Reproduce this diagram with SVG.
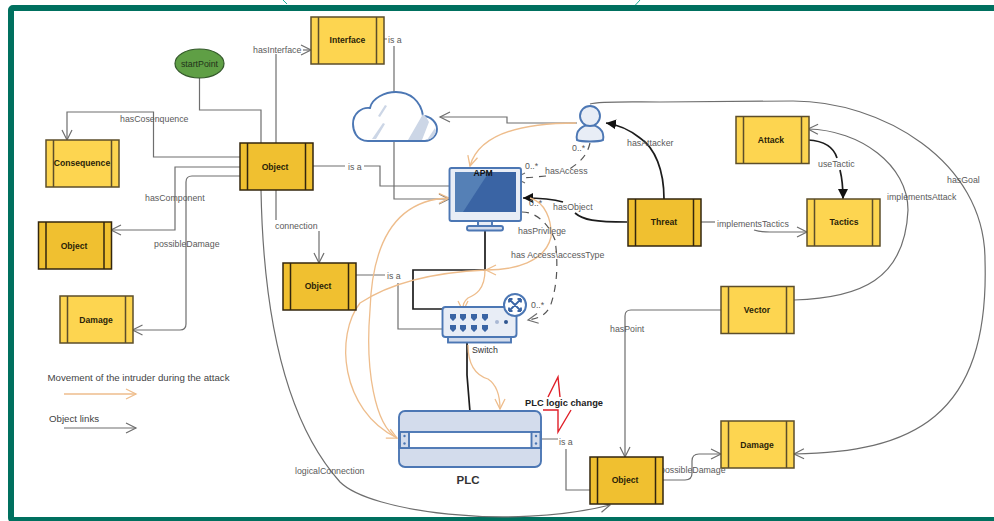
<svg xmlns="http://www.w3.org/2000/svg" width="994" height="521" viewBox="0 0 994 521">
<style>
text{font-family:"Liberation Sans",Arial,sans-serif;stroke:none}
.lb{font-size:8.8px;fill:#5a5a5a}
.nt{font-size:8.6px;font-weight:bold;fill:#2a1f08;text-anchor:middle}
.c{fill:none;stroke:#6e6e6e;stroke-width:1.2}
.cm{marker-end:url(#open)}
.k{fill:none;stroke:#1c1c1c;stroke-width:1.7}
.km{marker-end:url(#solid)}
.d{fill:none;stroke:#555;stroke-width:1.2;stroke-dasharray:7 6}
.o{fill:none;stroke:#eebd8c;stroke-width:1.3}
.om{marker-end:url(#openO)}
.light{fill:#fdd550;stroke:#5c4e2a}
.dark{fill:#f0c030;stroke:#33260e}
.pb{stroke-width:1.5}
.blue{fill:#e8edf6;stroke:#4c77b4;stroke-width:1.9}
.pale{fill:#d3dcec;stroke:#4c77b4;stroke-width:1.9}
</style>
<defs>
<marker id="open" markerUnits="userSpaceOnUse" markerWidth="14" markerHeight="14" refX="11" refY="7" orient="auto"><path d="M1,2 L11,7 L1,12" fill="none" stroke="#6e6e6e" stroke-width="1.2"/></marker>
<marker id="openO" markerUnits="userSpaceOnUse" markerWidth="14" markerHeight="14" refX="11" refY="7" orient="auto"><path d="M1,2 L11,7 L1,12" fill="none" stroke="#eebd8c" stroke-width="1.3"/></marker>
<marker id="solid" markerUnits="userSpaceOnUse" markerWidth="14" markerHeight="14" refX="10" refY="7" orient="auto"><path d="M0,2 L10,7 L0,12 Z" fill="#111"/></marker>
<g id="proc"><rect x="0" y="0" width="73" height="47" class="pb"/><path d="M7.500,0V47M65.500,0V47" fill="none" class="pb"/></g>
</defs>
<rect width="994" height="521" fill="#fff"/>
<path d="M283,0L287,4M640,0L630,11M433,521L435,518M617,521L615,518" stroke="#1fb39c" stroke-width="1" fill="none"/>
<rect x="11" y="8" width="1000" height="512" rx="2" fill="none" stroke="#00705f" stroke-width="6"/>

<g id="connectors">
<path class="c" d="M199.500,78V110H261V143"/>
<path class="c" d="M276,143V54"/>
<path class="c cm" d="M303,50H311"/>
<path class="c cm" d="M240,157H153.500V112H67V140"/>
<path class="c cm" d="M240,167H175V230H111"/>
<path class="c cm" d="M240,176H192Q186,176 186,182V324Q186,330 180,330H132.500"/>
<path class="c" d="M312,166H345M364,166H380V186H449"/>
<path class="c" d="M276,190V220"/>
<path class="c cm" d="M319,231V263"/>
<path class="c cm" d="M261,190C263,300 280,415 340,482C370,512 510,530 610,505"/>
<path class="c" d="M384,39H387M394,46V92"/>
<path class="c cm" d="M394,141V199H449"/>
<path class="c cm" d="M577,123H507V117H440"/>
<path class="c" d="M355,275H385M398,283V329H443"/>
<path class="c" d="M541,439H558M566,449V490H590"/>
<path class="c cm" d="M721,310H631Q625,310 625,316V457"/>
<path class="c" d="M700,222H715"/>
<path class="c cm" d="M754,230Q760,232 770,232H807"/>
<path class="c cm" d="M662,480H685Q692,480 692,473V461Q692,454 699,454H721"/>
<path class="c cm" d="M794,300C860,298 905,280 908,210C908,165 860,130 808,129"/>
<path class="c cm" d="M590,104C600,101 630,102 660,102L793,101C880,101 985,160 985,260C990,420 910,452 794,454"/>
<path class="k" d="M485,230V270H413V309H443"/>
<path class="k" d="M467,342V375L470,412"/>
<path class="k km" d="M563,202C553,199 540,198 523,198"/>
<path class="k" d="M575,213C583,220 595,222 627,222"/>
<path class="k km" d="M664,199C664,170 655,148 640,138C630,130 620,125 606,123"/>
<path class="k" d="M808,140C825,141 834,148 837,158"/>
<path class="k km" d="M840,170C842,178 843,188 843,199"/>
<path class="d" d="M590,143C586,160 575,165 565,172"/>
<path class="d cm" d="M546,176C535,177 528,178 515,178"/>
<path class="d cm" d="M522,212C535,212 548,222 555,240C558,260 558,285 550,307C545,315 540,318 528,320"/>
<path class="o om" d="M576,123C530,123 480,130 470,166"/>
<path class="o om" d="M397,438C375,425 365,370 370,310C372,250 390,200 449,198"/>
<path class="o om" d="M530,198C545,202 552,220 551,237C545,262 515,270 486,270"/>
<path class="o om" d="M486,270C440,272 395,280 360,303C335,335 340,410 397,438"/>
<path class="o om" d="M485,270C485,290 475,295 468,298C463,302 463,305 463,311"/>
<path class="o om" d="M468,345C468,365 475,375 488,379C497,385 500,395 500,409"/>
<path d="M548,397L558,377L560,397M543,410H558L558,432L571,410" fill="none" stroke="#e01f28" stroke-width="1.400"/>
<text class="lb" x="253" y="53">hasInterface</text>
<text class="lb" x="120" y="122">hasCosenquence</text>
<text class="lb" x="145" y="201">hasComponent</text>
<text class="lb" x="154" y="247">possibleDamage</text>
<text class="lb" x="348" y="170">is a</text>
<text class="lb" x="275" y="229">connection</text>
<text class="lb" x="295" y="474">logicalConnection</text>
<text class="lb" x="388" y="43">is a</text>
<text class="lb" x="387" y="279">is a</text>
<text class="lb" x="559" y="445">is a</text>
<text class="lb" x="545" y="174">hasAccess</text>
<text class="lb" x="553" y="210">hasObject</text>
<text class="lb" x="518" y="234">hasPrivilege</text>
<text class="lb" x="511" y="258">has Access\accessType</text>
<text class="lb" x="627" y="146">hasAttacker</text>
<text class="lb" x="818" y="167">useTactic</text>
<text class="lb" x="717" y="227">implementsTactics</text>
<text class="lb" x="887" y="200">implementsAttack</text>
<text class="lb" x="947" y="183">hasGoal</text>
<text class="lb" x="610" y="332">hasPoint</text>
<text class="lb" x="660" y="473">possibleDamage</text>
<text class="lb" x="572" y="151">0..*</text>
<text class="lb" x="525" y="169">0..*</text>
<text class="lb" x="529" y="206">0..*</text>
<text class="lb" x="531" y="308">0..*</text>
</g>

<g id="node-startPoint"><ellipse cx="199.500" cy="63.500" rx="24.500" ry="14.500" fill="#5f9f45" stroke="#33582a" stroke-width="1.200"/><text x="199.500" y="67" font-size="8.800" fill="#22331a" text-anchor="middle">startPoint</text></g>
<g id="node-interface" class="light"><use href="#proc" x="311" y="17"/><text class="nt" x="347.500" y="43">Interface</text></g>
<g id="node-consequence" class="light"><use href="#proc" x="46" y="140"/><text class="nt" x="82" y="166">Consequence</text></g>
<g id="node-object-main" class="dark"><use href="#proc" x="240" y="143"/><text class="nt" x="275" y="170">Object</text></g>
<g id="node-object-left" class="dark"><use href="#proc" x="38.500" y="222"/><text class="nt" x="74" y="249">Object</text></g>
<g id="node-damage-left" class="light"><use href="#proc" x="60" y="296"/><text class="nt" x="96" y="323">Damage</text></g>
<g id="node-object-mid" class="dark"><use href="#proc" x="283" y="263"/><text class="nt" x="318" y="289">Object</text></g>
<g id="node-threat" class="dark"><use href="#proc" x="628" y="199"/><text class="nt" x="664" y="225">Threat</text></g>
<g id="node-attack" class="light"><use href="#proc" x="736" y="116.500"/><text class="nt" x="771" y="143">Attack</text></g>
<g id="node-tactics" class="light"><use href="#proc" x="807" y="199"/><text class="nt" x="844" y="225">Tactics</text></g>
<g id="node-vector" class="light"><use href="#proc" x="721" y="286.500"/><text class="nt" x="757" y="313">Vector</text></g>
<g id="node-damage-right" class="light"><use href="#proc" x="721" y="421"/><text class="nt" x="757" y="448">Damage</text></g>
<g id="node-object-bottom" class="dark"><use href="#proc" x="590" y="457"/><text class="nt" x="625" y="483">Object</text></g>

<g id="node-cloud">
<path d="M368,141C356,141 353,130 353,124C353,113 362,107 370,108C372,98 385,92 396,92C410,92 421,101 423,116C431,116 437,123 437,129C437,136 431,141 425,141Z" fill="#fff" stroke="#4c77b4" stroke-width="1.900"/>
<path d="M385,105L378,116L380,117L387,106ZM383,123L372,139H376L385,124ZM423,114L408,140H422L429,122Q426,116 423,114ZM435,128L427,140Q435,138 436,131Z" fill="#ccd6e6"/>
</g>
<g id="node-user">
<path d="M577,140C575,130 583,125 590,125C597,125 605,130 603,140C598,142 582,142 577,140Z" class="blue"/>
<circle cx="590" cy="116" r="10" class="blue"/>
</g>
<g id="node-apm">
<rect x="478" y="221" width="14" height="6" class="blue"/>
<rect x="467" y="226" width="36" height="4.500" rx="2" class="pale"/>
<rect x="449.500" y="168" width="71.500" height="53" rx="2" class="blue"/>
<rect x="455" y="172" width="61" height="40" fill="#3a64a4"/>
<path d="M455,172H489L463,212H455Z" fill="#5580b6"/>
<text x="483" y="176" font-size="8.600" font-weight="bold" fill="#111" text-anchor="middle">APM</text>
</g>
<g id="node-switch">
<rect x="448" y="336" width="63" height="6.500" class="pale"/>
<rect x="442.500" y="307" width="74" height="30" rx="3" class="blue"/>
<g fill="#3a64a4"><path d="M450,314h6v4l-3,3l-3,-3zM460,314h6v4l-3,3l-3,-3zM471,314h6v4l-3,3l-3,-3zM482,314h6v4l-3,3l-3,-3zM450,325h6v4l-3,3l-3,-3zM460,325h6v4l-3,3l-3,-3zM471,325h6v4l-3,3l-3,-3zM482,325h6v4l-3,3l-3,-3z"/></g>
<circle cx="497" cy="322" r="2" fill="#a9b8d4"/><circle cx="506" cy="322" r="2" fill="#2f5590"/>
<circle cx="515" cy="305" r="11" fill="#fff" stroke="#4c77b4" stroke-width="2"/>
<path d="M509,299L521,311M521,299L509,311M509,299h3.500M509,299v3.500M521,299h-3.500M521,299v3.500M509,311h3.500M509,311v-3.500M521,311h-3.500M521,311v-3.500" fill="none" stroke="#3a64a4" stroke-width="1.800"/>
<text x="472" y="353" font-size="8.800" fill="#333">Switch</text>
</g>
<g id="node-plc">
<rect x="399" y="411" width="142" height="56" rx="6" class="pale"/>
<rect x="399" y="432" width="142" height="16" fill="#fff" stroke="#4c77b4" stroke-width="1.900"/>
<rect x="400" y="432" width="9" height="16" class="pale"/>
<rect x="531.500" y="432" width="9" height="16" class="pale"/>
<g fill="#4c77b4"><circle cx="404.500" cy="436" r="1.200"/><circle cx="404.500" cy="443.500" r="1.200"/><circle cx="536" cy="436" r="1.200"/><circle cx="536" cy="443.500" r="1.200"/></g>
<text x="468" y="484" font-size="11.500" font-weight="bold" fill="#333" text-anchor="middle">PLC</text>
</g>
<text x="525" y="406" font-size="9.300" font-weight="bold" fill="#222">PLC logic change</text>

<g id="legend">
<text x="47.500" y="381" font-size="9.700" fill="#444">Movement of the intruder during the attack</text>
<path class="o om" d="M64,394H136"/>
<text x="49" y="422" font-size="9.700" fill="#444">Object links</text>
<path class="c cm" d="M64,428H136"/>
</g>
</svg>
